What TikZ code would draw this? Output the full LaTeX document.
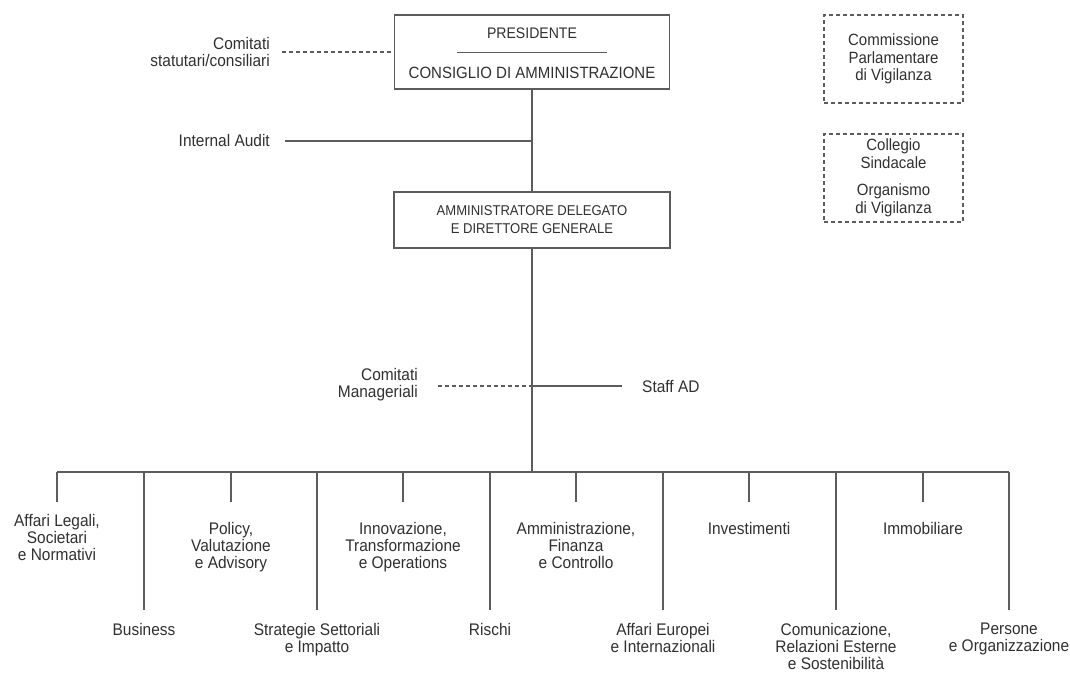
\documentclass[tikz,border=0pt]{standalone}
\usepackage{fontspec}
\setmainfont{Liberation Sans}[FakeStretch=0.92]
\definecolor{ln}{HTML}{5C5C5C}
\definecolor{tx}{HTML}{303030}
\begin{document}
\begin{tikzpicture}[x=1pt,y=-1pt,
  lbl/.style={font=\fontsize{16.8}{17}\selectfont, text=tx, align=center, inner sep=0pt},
  conn/.style={draw=ln, line width=1.3pt},
  dconn/.style={conn, dash pattern=on 4pt off 3pt},
  mainbox/.style={draw=ln, line width=1.3pt, inner sep=0pt, fill=white},
  dbox/.style={draw=ln, line width=1.1pt, dash pattern=on 4pt off 3pt, inner sep=0pt,
    minimum width=139pt, font=\fontsize{16.3}{17.5}\selectfont, text=tx, align=center}]
\useasboundingbox (0,0) rectangle (1070,672);

% main boxes
\node[mainbox, minimum width=275pt, minimum height=74pt] (pres) at (532,52) {};
\node[lbl, font=\fontsize{15.3}{17}\selectfont] (prest) at (532,33) {PRESIDENTE};
\node[lbl, font=\fontsize{16.3}{17}\selectfont] (cdat) at (532,73) {CONSIGLIO DI AMMINISTRAZIONE};
\draw[draw=ln, line width=0.8pt] (457,52) -- (607,52);

\node[mainbox, minimum width=276pt, minimum height=56pt,
  font=\fontsize{14.2}{18}\selectfont, text=tx, align=center] (ad) at (532,220)
  {AMMINISTRATORE DELEGATO\\E DIRETTORE GENERALE};

% right boxes
\node[dbox, minimum height=88pt] (cpv) at (893.5,59) {Commissione\\Parlamentare\\di Vigilanza};
\node[dbox, minimum height=88pt] (csov) at (893.5,178) {Collegio\\Sindacale\\[10pt]Organismo\\di Vigilanza};

% staff labels
\node[lbl, align=right, anchor=east] (cstat) at (270,52) {Comitati\\statutari/consiliari};
\coordinate (cstatL) at (282,52);
\draw[dconn] (cstatL) -- (pres.west);

\node[lbl, anchor=east] (ia) at (270,140) {Internal Audit};
\coordinate (iaL) at (285,141);
\coordinate (iaJ) at (532,141);
\draw[conn] (iaL) -- (iaJ);

\draw[conn] (pres.south) -- (ad.north);

\node[lbl, align=right, anchor=east] (cman) at (418,385) {Comitati\\Manageriali};
\coordinate (cmanL) at (438,386);
\coordinate (midJ) at (532,386);
\draw[dconn] (cmanL) -- (midJ);

\node[lbl, anchor=west] (staff) at (642,386) {Staff AD};
\coordinate (staffR) at (622,386);
\draw[conn] (midJ) -- (staffR);

% bus
\coordinate (busJ) at (532,472);
\coordinate (busL) at (57,472);
\coordinate (busR) at (1009,472);
\draw[conn] (ad.south) -- (busJ);
\draw[conn] (busL) -- (busR);

% upper-row units (short drops)
\foreach \n/\x/\y/\t in {
  a/57/514/{Affari Legali,\\Societari\\e Normativi},
  b/231/522/{Policy,\\Valutazione\\e Advisory},
  c/403/522/{Innovazione,\\Transformazione\\e Operations},
  d/576/522/{Amministrazione,\\Finanza\\e Controllo},
  e/749/522/{Investimenti},
  f/923/522/{Immobiliare}} {
  \node[lbl, anchor=north] (u\n) at (\x,\y) {\t};
  \coordinate (ut\n) at (\x,472);
  \coordinate (ub\n) at (\x,502);
  \draw[conn] (ut\n) -- (ub\n);
}

% lower-row units (long drops)
\foreach \n/\x/\t in {
  a/144/{Business},
  b/317/{Strategie Settoriali\\e Impatto},
  c/490/{Rischi},
  d/663/{Affari Europei\\e Internazionali},
  e/836/{Comunicazione,\\Relazioni Esterne\\e Sostenibilità},
  f/1009/{Persone\\e Organizzazione}} {
  \node[lbl, anchor=north] (l\n) at (\x,623) {\t};
  \coordinate (lt\n) at (\x,472);
  \coordinate (lb\n) at (\x,610);
  \draw[conn] (lt\n) -- (lb\n);
}
\end{tikzpicture}
\end{document}
